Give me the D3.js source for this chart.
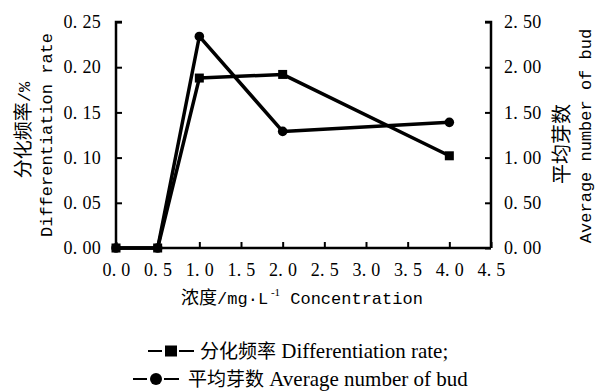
<!DOCTYPE html>
<html>
<head>
<meta charset="utf-8">
<script src="https://cdn.jsdelivr.net/npm/d3@7"></script>
<style>
  body { margin: 0; background: #fff; }
  svg { display: block; }
</style>
</head>
<body>
<svg id="chart" width="601" height="391"></svg>
<script>
// data
var conc = [0, 0.5, 1.0, 2.0, 4.0];
var diffRate = [0, 0, 0.188, 0.192, 0.102];   // left axis
var budNum = [0, 0, 2.34, 1.29, 1.39];        // right axis
var xTicks = [0, 0.5, 1, 1.5, 2, 2.5, 3, 3.5, 4, 4.5];
var yLeftTicks = [0, 0.05, 0.10, 0.15, 0.20, 0.25];
var yRightTicks = [0, 0.5, 1, 1.5, 2, 2.5];

var margin = {top: 22, right: 110, bottom: 143, left: 116};
var width = 601 - margin.left - margin.right,
    height = 391 - margin.top - margin.bottom;

var svg = d3.select("#chart");
var g = svg.append("g").attr("transform", `translate(${margin.left},${margin.top})`);

var x = d3.scaleLinear().domain([0, 4.5]).range([0, width]);
var yL = d3.scaleLinear().domain([0, 0.25]).range([height, 0]);
var yR = d3.scaleLinear().domain([0, 2.5]).range([height, 0]);

var tickFont = "'Liberation Serif', 'DejaVu Serif', serif";
var monoFont = "'Liberation Mono', 'DejaVu Sans Mono', monospace";
var cjkFont = "'Noto Sans CJK SC', sans-serif";

function spaced(fmt) {
  return d => d3.format(fmt)(d).replace(".", ". ");
}

// axes
var xAxis = g.append("g").attr("transform", `translate(0,${height})`)
  .call(d3.axisBottom(x).tickValues(xTicks).tickSize(-6).tickPadding(15).tickFormat(spaced(".1f")));
var lAxis = g.append("g")
  .call(d3.axisLeft(yL).tickValues(yLeftTicks).tickSize(-6).tickPadding(15).tickFormat(spaced(".2f")));
var rAxis = g.append("g").attr("transform", `translate(${width},0)`)
  .call(d3.axisRight(yR).tickValues(yRightTicks).tickSize(-6).tickPadding(13).tickFormat(spaced(".2f")));

[xAxis, lAxis, rAxis].forEach(a => {
  a.attr("font-family", tickFont).attr("font-size", 18);
  a.select(".domain").attr("stroke", "#000").attr("stroke-width", 2.5);
  a.selectAll(".tick line").attr("stroke", "#000").attr("stroke-width", 2);
  a.selectAll(".tick text").attr("fill", "#000").style("letter-spacing", "0.3px");
});
// axes end cleanly, with the tick stub at the top
xAxis.select(".domain").attr("d", `M0,0H${width}`);
lAxis.select(".domain").attr("d", `M0,${height}V0H6`);
rAxis.select(".domain").attr("d", `M0,${height}V0H-6`);

// lines
var lineL = d3.line().x((d, i) => x(conc[i])).y(d => yL(d));
var lineR = d3.line().x((d, i) => x(conc[i])).y(d => yR(d));

g.append("path").datum(budNum).attr("d", lineR)
  .attr("fill", "none").attr("stroke", "#000").attr("stroke-width", 3.5).attr("stroke-linejoin", "round");
g.append("path").datum(diffRate).attr("d", lineL)
  .attr("fill", "none").attr("stroke", "#000").attr("stroke-width", 3.5).attr("stroke-linejoin", "round");

g.selectAll("circle.bud").data(budNum).join("circle")
  .attr("class", "bud")
  .attr("cx", (d, i) => x(conc[i])).attr("cy", d => yR(d)).attr("r", 4.8)
  .attr("fill", "#000");
g.selectAll("rect.rate").data(diffRate).join("rect")
  .attr("class", "rate")
  .attr("x", (d, i) => x(conc[i]) - 4.5).attr("y", d => yL(d) - 4.5)
  .attr("width", 9).attr("height", 9)
  .attr("fill", "#000");

// left axis title
var lt = svg.append("text").attr("transform", "translate(30,130) rotate(-90)")
  .attr("text-anchor", "middle").attr("fill", "#000");
lt.append("tspan").style("font-family", cjkFont).style("font-size", "19px").text("分化频率");
lt.append("tspan").style("font-family", monoFont).style("font-size", "17px").text("/%");
svg.append("text").attr("transform", "translate(52,135) rotate(-90)")
  .attr("text-anchor", "middle").attr("fill", "#000")
  .style("font-family", monoFont).style("font-size", "17px")
  .text("Differentiation rate");

// right axis title
svg.append("text").attr("transform", "translate(569,144) rotate(-90)")
  .attr("text-anchor", "middle").attr("fill", "#000")
  .style("font-family", cjkFont).style("font-size", "20px")
  .text("平均芽数");
svg.append("text").attr("transform", "translate(591,136) rotate(-90)")
  .attr("text-anchor", "middle").attr("fill", "#000")
  .style("font-family", monoFont).style("font-size", "17px")
  .text("Average number of bud");

// x title
var xt = svg.append("text").attr("x", 302).attr("y", 304)
  .attr("text-anchor", "middle").attr("fill", "#000");
xt.append("tspan").style("font-family", cjkFont).style("font-size", "18px").text("浓度");
xt.append("tspan").style("font-family", monoFont).style("font-size", "17px").text("/mg·L");
xt.append("tspan").style("font-family", tickFont).style("font-size", "11px").attr("dy", -8).text(" -1");
xt.append("tspan").style("font-family", monoFont).style("font-size", "17px").attr("dy", 8).text(" Concentration");

// legend
var legendItems = [
  {cn: "分化频率", en: " Differentiation rate;", mark: "square", x: 148, y: 358, tx: 52},
  {cn: "平均芽数", en: " Average number of bud", mark: "circle", x: 133, y: 386, tx: 55}
];
var leg = svg.append("g");
legendItems.forEach(it => {
  var cy = it.y - 7;
  leg.append("line").attr("x1", it.x).attr("x2", it.x + 14)
    .attr("y1", cy).attr("y2", cy).attr("stroke", "#000").attr("stroke-width", 2);
  leg.append("line").attr("x1", it.x + 31).attr("x2", it.x + 46)
    .attr("y1", cy).attr("y2", cy).attr("stroke", "#000").attr("stroke-width", 2);
  if (it.mark === "square") {
    leg.append("rect").attr("x", it.x + 17).attr("y", cy - 5.5).attr("width", 12).attr("height", 11).attr("fill", "#000");
  } else {
    leg.append("circle").attr("cx", it.x + 23).attr("cy", cy).attr("r", 6).attr("fill", "#000");
  }
  var t = leg.append("text").attr("x", it.x + it.tx).attr("y", it.y).attr("fill", "#000");
  t.append("tspan").style("font-family", cjkFont).style("font-size", "19px").text(it.cn);
  t.append("tspan").style("font-family", tickFont).style("font-size", "21px").text(it.en);
});
</script>
</body>
</html>
